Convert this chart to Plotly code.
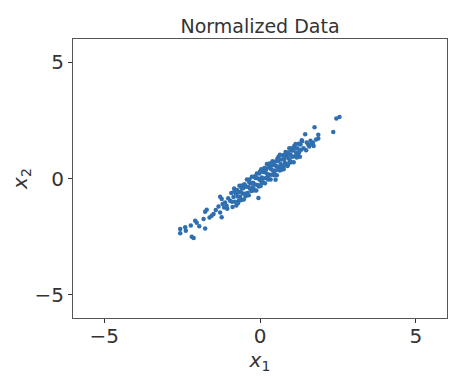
import plotly.graph_objects as go

x1_vals = [
    -2.56, -2.56, -2.40, -2.38, -2.19, -2.13, -2.22, -2.08, -2.03, -1.95,
    -1.81, -1.76, -1.71, -1.76, -1.62, -1.55, -1.49, -1.42, -1.33, -1.28,
    -1.23, -1.28, -1.23, -1.12, -1.07, -0.96, -1.15, -1.02, -1.20, -1.05,
    2.55, 2.45, 2.35, 1.75, 1.87, 1.87, 1.45, 1.55, 1.62, 1.70,
    1.80, 1.58, 1.66, 1.50, 1.40, 1.35, 1.48, 1.72,
    -0.92, -0.90, -0.88, -0.85, -0.83, -0.80, -0.78, -0.76, -0.74, -0.72,
    -0.70, -0.68, -0.66, -0.64, -0.62, -0.60, -0.58, -0.56, -0.54, -0.52,
    -0.50, -0.48, -0.46, -0.44, -0.42, -0.40, -0.38, -0.36, -0.34, -0.32,
    -0.30, -0.28, -0.26, -0.24, -0.22, -0.20, -0.18, -0.16, -0.14, -0.12,
    -0.10, -0.08, -0.06, -0.05, -0.04, -0.02, 0.00, 0.02, 0.04, 0.06,
    0.08, 0.10, 0.12, 0.14, 0.16, 0.18, 0.20, 0.22, 0.24, 0.26,
    0.28, 0.30, 0.32, 0.34, 0.36, 0.38, 0.40, 0.42, 0.44, 0.46,
    0.48, 0.50, 0.52, 0.54, 0.56, 0.58, 0.60, 0.62, 0.64, 0.66,
    0.68, 0.70, 0.72, 0.74, 0.76, 0.78, 0.80, 0.82, 0.84, 0.86,
    0.88, 0.90, 0.92, 0.94, 0.96, 0.98, 1.00, 1.02, 1.04, 1.06,
    1.08, 1.10, 1.12, 1.14, 1.16, 1.18, 1.20, 1.22, 1.24, 1.26,
    1.28, 1.30, 1.32, 1.34,
    -0.60, -0.45, -0.35, -0.25, -0.15, 0.05, 0.15, 0.25, 0.35, 0.45,
    0.55, 0.65, 0.75, 0.85, 0.95, 1.05, -0.70, -0.50, 0.30, 0.60,
    0.90, 1.10, 0.20, 0.50, 0.80, -0.20, 0.00, 0.70, 1.00, -0.82,
]

x2_vals = [
    -2.36, -2.17, -2.10, -2.25, -2.50, -2.56, -2.02, -1.82, -1.90, -2.05,
    -1.74, -1.43, -1.34, -2.15, -1.68, -1.60, -1.53, -1.35, -1.20, -1.46,
    -1.67, -0.79, -0.88, -1.03, -1.17, -0.96, -1.25, -0.85, -1.10, -1.30,
    2.65, 2.58, 2.00, 2.20, 1.88, 1.72, 1.90, 1.45, 1.62, 1.55,
    1.68, 1.38, 1.48, 1.55, 1.30, 1.60, 1.22, 1.40,
    -0.62, -1.00, -1.23, -0.80, -0.43, -1.00, -0.63, -1.16, -0.49, -0.77,
    -0.60, -0.96, -0.31, -0.79, -0.57, -0.92, -0.30, -0.64, -0.42, -0.90,
    -0.28, -0.66, -0.76, -0.36, -0.04, -0.62, -0.36, -0.72, -0.04, -0.44,
    -0.20, -0.54, 0.08, -0.38, -0.18, -0.52, 0.08, -0.26, 0.02, -0.52,
    0.22, -0.28, 0.00, -0.84, -0.34, 0.22, -0.06, -0.32, 0.40, 0.04,
    -0.16, 0.28, 0.00, 0.44, -0.20, 0.26, 0.02, 0.62, 0.18, -0.04,
    0.48, 0.16, 0.60, -0.04, 0.40, 0.16, 0.74, 0.34, 0.58, 0.14,
    0.72, 0.34, 0.54, 0.14, 0.86, 0.48, 0.78, 0.36, 1.02, 0.62,
    0.38, 0.82, 0.54, 1.00, 0.40, 0.84, 0.68, 1.14, 0.60, 0.96,
    0.54, 1.12, 0.86, 1.30, 0.76, 1.02, 0.70, 1.30, 0.94, 1.20,
    0.70, 1.30, 0.96, 1.48, 1.12, 0.90, 1.30, 1.02, 1.50, 1.14,
    0.94, 1.46, 1.24, 1.64,
    -0.40, -0.70, -0.15, -0.45, 0.10, -0.20, 0.45, 0.05, 0.55, 0.20,
    0.75, 0.35, 0.50, 1.05, 0.70, 1.25, -1.05, -0.25, 0.65, 0.95,
    0.60, 1.40, 0.40, -0.05, 1.00, -0.45, 0.30, 0.45, 1.20, -0.55,
]

tick_vals = [-5, 0, 5]
tick_text = ["\u22125", "0", "5"]

font_family = "DejaVu Sans"

# The page body has an 8px default margin, so the figure is sized to fit.
W, H = 462, 380

fig = go.Figure()
fig.add_trace(go.Scatter(
    x=x1_vals, y=x2_vals, mode="markers",
    marker=dict(size=4.5, color="#2f6fb0", line=dict(width=0)),
    showlegend=False,
))

axis_common = dict(
    range=[-6, 6],
    tickvals=tick_vals,
    ticktext=tick_text,
    ticks="outside",
    ticklen=4,
    tickcolor="#333333",
    showline=True,
    linecolor="#555555",
    linewidth=1,
    mirror=True,
    showgrid=False,
    zeroline=False,
    automargin=False,
    tickfont=dict(family=font_family, size=20, color="#333333"),
)

fig.update_layout(
    width=W, height=H,
    margin=dict(l=65, r=23, t=31, b=70),
    paper_bgcolor="white",
    plot_bgcolor="white",
    font=dict(family=font_family, color="#333333"),
    title=dict(
        text="Normalized Data",
        x=(65 + (W - 23)) / 2 / W, xanchor="center",
        y=1 - 25 / H, yanchor="bottom",
        font=dict(family=font_family, size=19, color="#333333"),
    ),
    xaxis=dict(
        **axis_common,
        ticklabelstandoff=-4,
        title=dict(text="<i>x</i><sub>1</sub>", standoff=0,
                   font=dict(family=font_family, size=20, color="#333333")),
    ),
    yaxis=dict(
        **axis_common,
        title=dict(text="<i>x</i><sub>2</sub>", standoff=17,
                   font=dict(family=font_family, size=20, color="#333333")),
    ),
)

fig.write_html("out.html")
